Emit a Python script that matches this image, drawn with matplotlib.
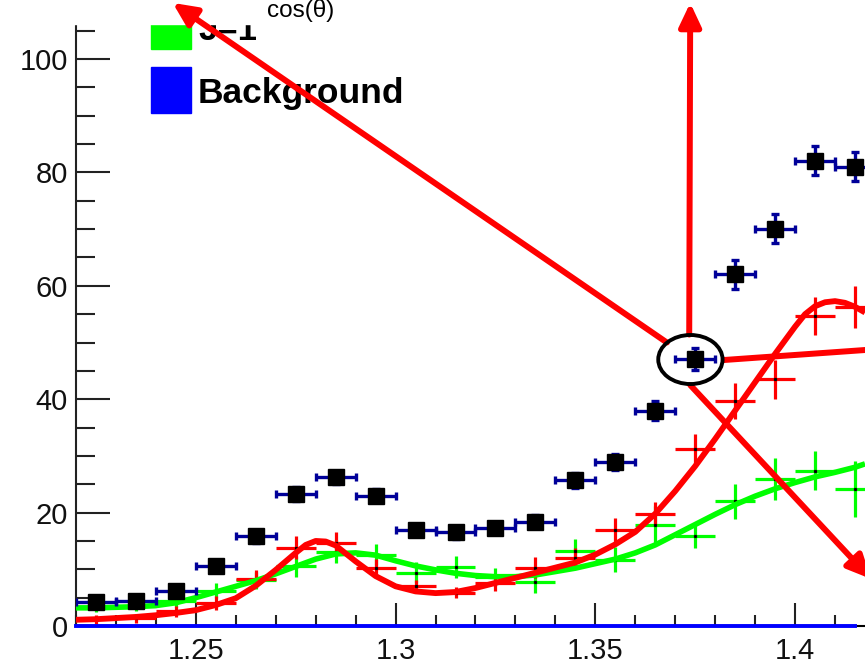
import matplotlib
matplotlib.use("Agg")
import matplotlib.pyplot as plt
import matplotlib.patches as patches
from matplotlib.ticker import MultipleLocator, FixedLocator

plt.rcParams['font.family'] = ['Liberation Sans', 'DejaVu Sans']

# bin centres of the histogram
bin_x = [1.225, 1.235, 1.245, 1.255, 1.265, 1.275, 1.285, 1.295, 1.305, 1.315,
         1.325, 1.335, 1.345, 1.355, 1.365, 1.375, 1.385, 1.395, 1.405, 1.415]
bin_half = 0.005

# measured data (black squares)
data_y = [4.2, 4.4, 6.2, 10.5, 15.8, 23.3, 26.2, 23.0, 16.9, 16.5,
          17.3, 18.4, 25.7, 29.0, 38.0, 47.1, 62.0, 70.1, 82.1, 81.0]
data_err = [0.9, 0.9, 1.0, 1.0, 1.1, 1.2, 1.2, 1.2, 1.1, 1.1,
            1.1, 1.2, 1.3, 1.4, 1.7, 1.9, 2.5, 2.5, 2.5, 2.6]

# red histogram (crosses)
red_y = [1.2, 1.4, 2.6, 4.1, 8.3, 13.8, 14.6, 10.3, 7.0, 5.9,
         7.6, 10.3, 12.0, 17.0, 19.8, 31.3, 39.7, 43.5, 54.7, 56.3]
red_err = [0.8, 0.8, 1.0, 1.2, 1.5, 2.0, 2.0, 1.6, 1.2, 1.0,
           1.4, 1.9, 1.8, 2.1, 2.0, 2.5, 3.2, 3.4, 3.4, 3.7]

# green histogram J=1 (crosses)
green_y = [3.4, 3.5, 4.4, 6.2, 8.1, 10.5, 13.1, 12.6, 9.4, 10.4,
           8.7, 7.8, 13.2, 11.7, 17.9, 15.8, 22.0, 26.0, 27.4, 24.2]
green_err = [0.9, 0.9, 1.0, 1.3, 1.5, 1.8, 2.0, 1.8, 1.8, 1.9,
             1.6, 2.0, 2.2, 2.2, 3.2, 2.0, 3.1, 3.7, 3.4, 4.9]

# fitted curves
red_curve_x = [1.22, 1.225, 1.23, 1.235, 1.24, 1.245, 1.25, 1.255, 1.26, 1.265,
               1.27, 1.275, 1.2775, 1.28, 1.2825, 1.285, 1.29, 1.295, 1.30, 1.305,
               1.31, 1.315, 1.32, 1.325, 1.33, 1.335, 1.34, 1.345, 1.35, 1.355,
               1.36, 1.365, 1.37, 1.375, 1.38, 1.385, 1.39, 1.395, 1.40, 1.4025,
               1.405, 1.4075, 1.41, 1.4125, 1.415, 1.4175]
red_curve = [1.1, 1.2, 1.4, 1.6, 1.9, 2.3, 2.8, 3.7, 4.9, 7.1,
             9.9, 12.9, 14.3, 15.0, 14.9, 14.2, 11.4, 8.8, 7.0, 6.1,
             5.8, 6.0, 6.7, 7.6, 8.5, 9.4, 10.3, 11.2, 12.6, 14.4,
             16.6, 19.8, 23.8, 28.2, 33.0, 38.0, 43.0, 48.0, 52.8, 55.0,
             56.4, 57.1, 57.3, 57.0, 56.3, 55.3]
green_curve_x = [1.22, 1.225, 1.23, 1.235, 1.24, 1.245, 1.25, 1.255, 1.26, 1.265,
                 1.27, 1.275, 1.28, 1.285, 1.29, 1.295, 1.30, 1.305, 1.31, 1.315,
                 1.32, 1.325, 1.33, 1.335, 1.34, 1.345, 1.35, 1.355, 1.36, 1.365,
                 1.37, 1.375, 1.38, 1.385, 1.39, 1.395, 1.40, 1.405, 1.41, 1.415, 1.4175]
green_curve = [3.2, 3.2, 3.3, 3.4, 3.6, 4.1, 5.0, 6.0, 7.0, 8.0,
               9.2, 10.5, 11.8, 12.7, 12.9, 12.5, 11.5, 10.6, 9.9, 9.3,
               8.9, 8.7, 8.7, 9.0, 9.6, 10.2, 11.0, 11.8, 12.9, 14.3,
               16.1, 17.9, 19.7, 21.4, 22.9, 24.2, 25.3, 26.3, 27.1, 28.0, 28.6]

# background function
bkg_x = [1.22, 1.415]
bkg_y = [0.0, 0.0]

x_ticks = [1.25, 1.3, 1.35, 1.4]
x_labels = ['1.25', '1.3', '1.35', '1.4']
y_ticks = [0, 20, 40, 60, 80, 100]

RED = '#ff0000'
GREEN = '#00ff00'
BLUE = '#0000ff'
NAVY = '#000099'

fig = plt.figure(figsize=(8.65, 6.64), dpi=100)
ax = fig.add_axes([76 / 865, 38 / 664, 1 - 76 / 865, (626 - 25) / 664])
ax.set_xlim(1.22, 1.4175)
ax.set_ylim(0, 106)

xerr = [bin_half] * len(bin_x)

# histograms drawn as crosses
ax.errorbar(bin_x, green_y, xerr=xerr, yerr=green_err, fmt='s', ms=1.3,
            color='black', ecolor=GREEN, elinewidth=2.3, capsize=0, zorder=2)
ax.errorbar(bin_x, red_y, xerr=xerr, yerr=red_err, fmt='s', ms=1.3,
            color='black', ecolor=RED, elinewidth=2.3, capsize=0, zorder=2)

# curves
ax.plot(green_curve_x, green_curve, color=GREEN, lw=4, zorder=3,
        solid_capstyle='butt', solid_joinstyle='round')
ax.plot(red_curve_x, red_curve, color=RED, lw=4.2, zorder=3,
        solid_capstyle='butt', solid_joinstyle='round')
ax.plot(bkg_x, bkg_y, color=BLUE, lw=2.8, zorder=3, clip_on=False)

# data points
ax.errorbar(bin_x, data_y, xerr=xerr, yerr=data_err, fmt='s', ms=11,
            mfc='black', mec='black', ecolor=NAVY, elinewidth=2.4,
            capsize=3, capthick=2.4, zorder=4)

# axes style
for s in ['top', 'right']:
    ax.spines[s].set_visible(False)
ax.spines['left'].set_linewidth(1.5)
ax.spines['bottom'].set_linewidth(1.5)
ax.spines['left'].set_color('#222222')

ax.xaxis.set_major_locator(FixedLocator(x_ticks))
ax.set_xticklabels(x_labels)
ax.xaxis.set_minor_locator(MultipleLocator(0.01))
ax.yaxis.set_major_locator(FixedLocator(y_ticks))
ax.yaxis.set_minor_locator(MultipleLocator(5))

ax.tick_params(axis='x', which='major', direction='in', length=16.5, width=1.5,
               labelsize=21, pad=8, color='#222222', labelcolor='#111111')
ax.tick_params(axis='x', which='minor', direction='in', length=8, width=1.5,
               color='#222222')
ax.tick_params(axis='y', which='major', direction='in', length=24.5, width=1.5,
               labelsize=21, pad=6, color='#222222', labelcolor='#111111')
ax.tick_params(axis='y', which='minor', direction='in', length=13.7, width=1.5,
               color='#222222')

# legend (partially covered at the top)
ft = fig.transFigure
def fx(px):
    return px / 865
def fy(py):
    return 1 - py / 664

ax.add_patch(patches.Rectangle((fx(151), fy(49)), fx(191) - fx(151), fy(3) - fy(49),
                               transform=ft, color=GREEN, clip_on=False, zorder=6))
ax.add_patch(patches.Rectangle((fx(151), fy(113)), fx(191) - fx(151), fy(67) - fy(113),
                               transform=ft, color=BLUE, clip_on=False, zorder=6))
ax.text(fx(198), fy(40), 'J=1', transform=ft, fontsize=25, fontweight='bold',
        va='baseline', ha='left', zorder=6, clip_on=False)
ax.text(fx(198), fy(103), 'Background', transform=ft, fontsize=25.5, fontweight='bold',
        va='baseline', ha='left', zorder=6, clip_on=False)

# white strip over the top
ax.add_patch(patches.Rectangle((0, fy(24)), 1, fy(0) - fy(24), transform=ft,
                               color='white', clip_on=False, zorder=7))
ax.text(fx(301), fy(10), 'cos(θ)', transform=ft, fontsize=17.5,
        ha='center', va='center', zorder=8, clip_on=False)

# annotations around the point at 1.375
ell_c = (1.3738, 47.0)
ax.add_patch(patches.Ellipse(ell_c, 0.0161, 8.65, fill=False, ec='black', lw=2.8,
                             zorder=10, clip_on=False))

arrow_style = '-|>,head_length=0.7,head_width=0.33'
arrows = [
    ((1.3679, 50.0), (1.2442, 109.9)),
    ((1.3735, 51.4), (1.37375, 109.9)),
    ((1.37375, 42.5), (1.4190, 8.3)),
]
for tail, tip in arrows:
    ax.annotate('', xy=tip, xytext=tail, annotation_clip=False,
                arrowprops=dict(arrowstyle=arrow_style, mutation_scale=20,
                                color=RED, lw=4.3, shrinkA=0, shrinkB=0),
                zorder=9)
ax.plot([1.3819, 1.43], [46.9, 49.3], color=RED, lw=4.3, zorder=9, clip_on=False,
        solid_capstyle='butt')

fig.savefig('out.png', dpi=100)
